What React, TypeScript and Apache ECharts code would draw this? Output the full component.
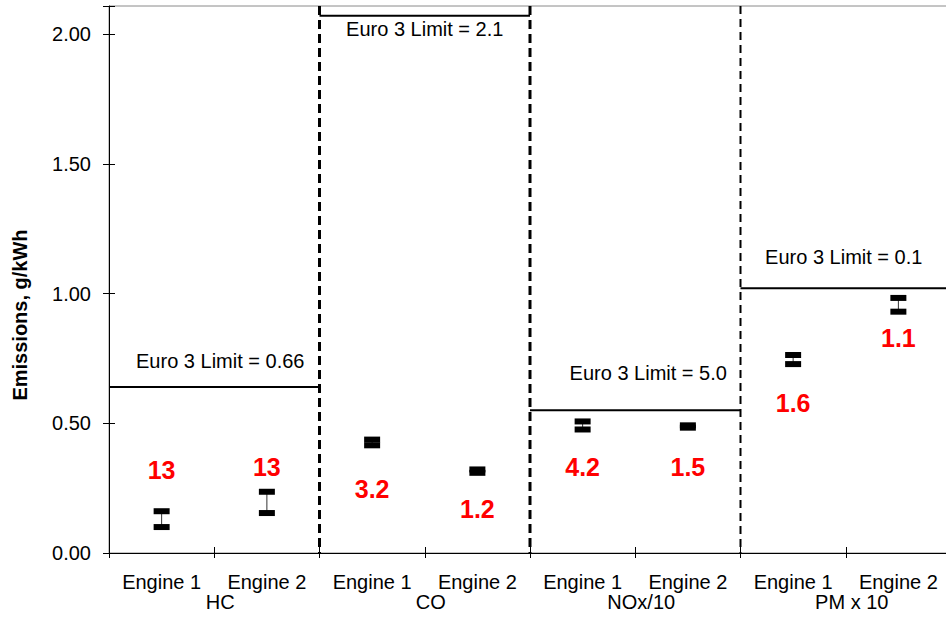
import React, { useEffect, useRef } from "react";
import * as echarts from "echarts";

const categories = ["Engine 1", "Engine 2", "Engine 1", "Engine 2", "Engine 1", "Engine 2", "Engine 1", "Engine 2"];
const pollutants = ["HC", "CO", "NOx/10", "PM x 10"];
const highValues = [0.161, 0.236, 0.437, 0.322, 0.507, 0.492, 0.763, 0.983];
const lowValues = [0.1, 0.154, 0.415, 0.309, 0.476, 0.483, 0.728, 0.93];
const ratioLabels = ["13", "13", "3.2", "1.2", "4.2", "1.5", "1.6", "1.1"];
const ratioLabelAt = [0.32, 0.331, 0.248, 0.17, 0.331, 0.331, 0.578, 0.827];
const limitValues = [0.64, 2.07, 0.55, 1.02];
const limitTexts = ["Euro 3 Limit = 0.66", "Euro 3 Limit = 2.1", "Euro 3 Limit = 5.0", "Euro 3 Limit = 0.1"];
const yTicks = [0, 0.5, 1.0, 1.5, 2.0];

const FONT = "'Liberation Sans', Arial, Helvetica, sans-serif";
const Y_MAX = 2.108;

// pixel offsets for the limit captions (dx from group centre, dy from the line)
const captionOffsets = [
  [6, -26],
  [0, 13],
  [13, -37],
  [-2, -31],
];

export default function App() {
  const ref = useRef<HTMLDivElement>(null);

  useEffect(() => {
    document.body.style.margin = "0";
    const chart = echarts.init(ref.current!, undefined, { renderer: "svg" });

    const markerData = categories.map((_, i) => [i, highValues[i], lowValues[i], ratioLabelAt[i]]);
    const limitData = limitValues.map((v, g) => [g, v]);
    const dividerData = [1, 3, 5].map((i) => [i, 0]);

    const yAxisBase = {
      type: "value",
      min: 0,
      max: Y_MAX,
      interval: 0.5,
      splitLine: { show: false },
    };

    const option: any = {
      animation: false,
      backgroundColor: "#ffffff",
      textStyle: { fontFamily: FONT },
      grid: {
        left: 109,
        top: 6,
        right: -5,
        bottom: 67,
        outerBoundsMode: "none",
        containLabel: false,
        show: true,
        borderColor: "#8a8a8a",
        borderWidth: 1,
        backgroundColor: "transparent",
      },
      xAxis: [
        {
          type: "category",
          data: categories,
          position: "bottom",
          boundaryGap: true,
          axisLine: { show: true, lineStyle: { color: "#000", width: 1 } },
          axisTick: { show: true, length: 5, lineStyle: { color: "#000" } },
          axisLabel: { show: true, color: "#000", fontSize: 20, fontFamily: FONT, margin: 19, interval: 0 },
        },
        {
          type: "category",
          data: categories,
          position: "bottom",
          boundaryGap: true,
          axisLine: { show: false },
          axisTick: { show: true, inside: true, length: 6, lineStyle: { color: "#000" } },
          axisLabel: { show: false },
        },
        {
          type: "category",
          data: pollutants,
          position: "bottom",
          boundaryGap: true,
          axisLine: { show: false },
          axisTick: { show: false },
          axisLabel: {
            show: true,
            color: "#000",
            fontSize: 20,
            fontFamily: FONT,
            margin: 39,
            interval: 0,
            padding: [0, 0, 0, 12],
          },
        },
      ],
      yAxis: [
        {
          ...yAxisBase,
          position: "left",
          axisLine: { show: true, lineStyle: { color: "#000", width: 1 } },
          axisTick: { show: true, length: 6, lineStyle: { color: "#000" } },
          axisLabel: {
            show: true,
            color: "#000",
            fontSize: 20,
            fontFamily: FONT,
            margin: 18,
            formatter: (v: number) => (yTicks.indexOf(v) >= 0 ? v.toFixed(2) : ""),
          },
        },
        {
          ...yAxisBase,
          position: "left",
          axisLine: { show: false },
          axisTick: { show: true, inside: true, length: 6, lineStyle: { color: "#000" } },
          axisLabel: { show: false },
        },
      ],
      graphic: [
        {
          type: "text",
          x: 20,
          y: 315,
          rotation: Math.PI / 2,
          style: {
            text: "Emissions, g/kWh",
            fill: "#000",
            font: `bold 20px ${FONT}`,
            align: "center",
            verticalAlign: "middle",
          },
        },
      ],
      series: [
        {
          type: "custom",
          name: "dividers",
          xAxisIndex: 0,
          yAxisIndex: 0,
          clip: false,
          data: dividerData,
          renderItem: (params: any, api: any) => {
            const i = api.value(0);
            const bw = api.size([1, 0])[0];
            const x = api.coord([i, 0])[0] + bw / 2;
            const cs = params.coordSys;
            const thick = i !== 5;
            return {
              type: "line",
              shape: { x1: x, y1: cs.y, x2: x, y2: cs.y + cs.height },
              style: {
                stroke: "#000",
                lineWidth: thick ? 3 : 2,
                lineDash: thick ? [9, 5] : [8, 5],
              },
            };
          },
        },
        {
          type: "custom",
          name: "limits",
          xAxisIndex: 0,
          yAxisIndex: 0,
          clip: false,
          data: limitData,
          renderItem: (params: any, api: any) => {
            const g = api.value(0);
            const v = api.value(1);
            const bw = api.size([1, 0])[0];
            const pL = api.coord([2 * g, v]);
            const pR = api.coord([2 * g + 1, v]);
            const x1 = pL[0] - bw / 2;
            const x2 = pR[0] + bw / 2;
            const y = pL[1];
            const off = captionOffsets[params.dataIndex];
            return {
              type: "group",
              children: [
                {
                  type: "line",
                  shape: { x1, y1: y, x2, y2: y },
                  style: { stroke: "#000", lineWidth: 2 },
                },
                {
                  type: "text",
                  style: {
                    text: limitTexts[params.dataIndex],
                    x: (x1 + x2) / 2 + off[0],
                    y: y + off[1],
                    fill: "#000",
                    font: `20px ${FONT}`,
                    align: "center",
                    verticalAlign: "middle",
                  },
                },
              ],
            };
          },
        },
        {
          type: "custom",
          name: "ranges",
          xAxisIndex: 0,
          yAxisIndex: 0,
          data: markerData,
          renderItem: (params: any, api: any) => {
            const i = api.value(0);
            const hi = api.coord([i, api.value(1)]);
            const lo = api.coord([i, api.value(2)]);
            const lab = api.coord([i, api.value(3)]);
            const w = 16;
            const h = 6;
            return {
              type: "group",
              children: [
                {
                  type: "line",
                  shape: { x1: hi[0], y1: hi[1], x2: lo[0], y2: lo[1] },
                  style: { stroke: "#333", lineWidth: 1 },
                },
                {
                  type: "rect",
                  shape: { x: hi[0] - w / 2, y: hi[1] - h / 2, width: w, height: h },
                  style: { fill: "#000" },
                },
                {
                  type: "rect",
                  shape: { x: lo[0] - w / 2, y: lo[1] - h / 2, width: w, height: h },
                  style: { fill: "#000" },
                },
                {
                  type: "text",
                  style: {
                    text: ratioLabels[params.dataIndex],
                    x: lab[0],
                    y: lab[1],
                    fill: "#ff0000",
                    font: `bold 25px ${FONT}`,
                    align: "center",
                    verticalAlign: "middle",
                  },
                },
              ],
            };
          },
        },
      ],
    };

    chart.setOption(option);
    return () => {
      chart.dispose();
    };
  }, []);

  return (
    <div
      ref={ref}
      style={{ position: "absolute", left: 0, top: 0, width: 946, height: 620, background: "#fff" }}
    />
  );
}
